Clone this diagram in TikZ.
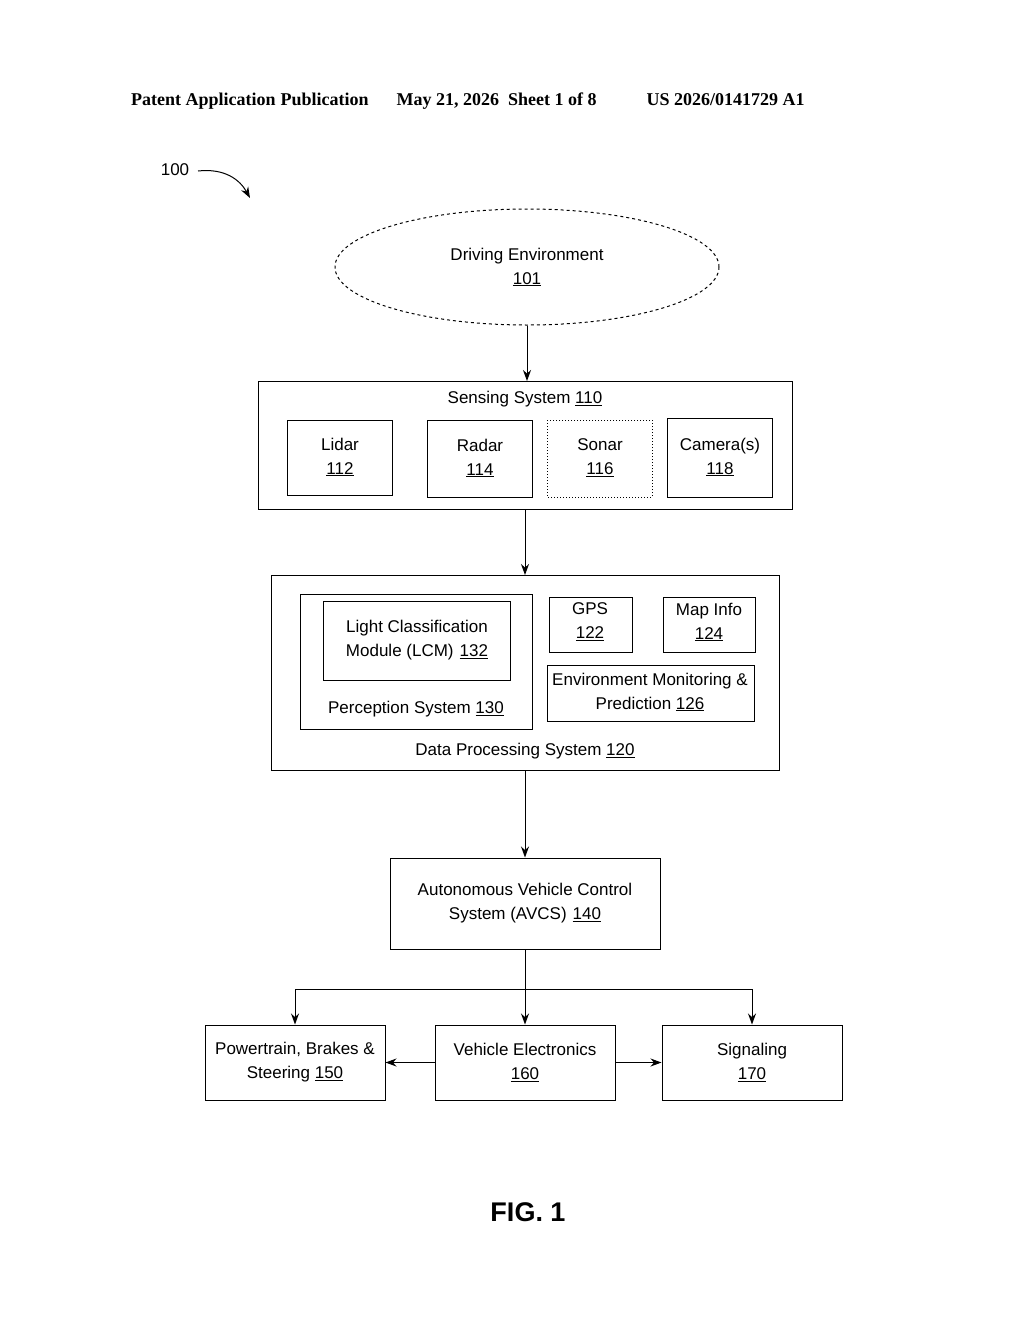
\documentclass[tikz,border=0pt]{standalone}
\usepackage{fontspec}
\setmainfont{Liberation Sans}
\newfontfamily\hdr{Liberation Serif}
\usetikzlibrary{arrows.meta,shapes.geometric}
\begin{document}
\begin{tikzpicture}[x=1pt,y=-1pt,
  bx/.style={draw,line width=1pt},
  lbl/.style={font=\fontsize{17}{24}\selectfont,align=center,inner sep=0},
  ar/.style={-{Stealth[length=11pt,width=8pt]},line width=1pt}]
\useasboundingbox (0,0) rectangle (1024,1320);
\node[font=\hdr\bfseries\fontsize{18}{20}\selectfont,anchor=west,inner sep=0] (hd) at (131,101) {Patent Application\hspace{5pt}Publication\hspace{28pt}May 21, 2026\hspace{9pt}Sheet 1 of 8\hspace{50pt}US 2026/0141729 A1};
\node[lbl] (n100) at (175,170) {100};
\coordinate (a100) at (250,198);
\draw[ar] (198,171) .. controls (225,168) and (240,180) .. (a100);
\node[draw,dashed,ellipse,minimum width=384,minimum height=116,line width=1pt] (env) at (527,267) {};
\node[lbl] (envt) at (527,267) {Driving Environment\\\underline{101}};
\draw[bx] (258,381) rectangle (792,509);
\coordinate (s) at (527,381);
\node[lbl] (st) at (525,399) {Sensing System \underline{110}};
\draw[bx] (287,420) rectangle (392,495); \node[lbl] (l) at (340,457) {Lidar\\\underline{112}};
\draw[bx] (427,420) rectangle (532,497); \node[lbl] (r) at (480,458) {Radar\\\underline{114}};
\draw[dotted,line width=1pt] (547,420) rectangle (652,497); \node[lbl] (so) at (600,458) {Sonar\\\underline{116}};
\draw[bx] (667,418) rectangle (772,497); \node[lbl] (c) at (720,457) {Camera(s)\\\underline{118}};
\draw[ar] (env.south) -- (s);
\coordinate (s2) at (525,509); \coordinate (d1) at (525,575);
\draw[ar] (s2) -- (d1);
\draw[bx] (271,575) rectangle (779,770);
\node[lbl] (dt) at (525,751) {Data Processing System \underline{120}};
\draw[bx] (300,594) rectangle (532,729);
\draw[bx] (323,601) rectangle (510,680);
\node[lbl] (lcm) at (417,640) {Light Classification\\Module (LCM)\hspace{6pt}\underline{132}};
\node[lbl] (pt) at (416,709) {Perception System \underline{130}};
\draw[bx] (549,597) rectangle (632,652); \node[lbl] (g) at (590,622) {GPS\\\underline{122}};
\draw[bx] (663,597) rectangle (755,652); \node[lbl] (m) at (709,622) {Map Info\\\underline{124}};
\draw[bx] (547,665) rectangle (754,721); \node[lbl] (e) at (650,692) {Environment Monitoring \&\\Prediction \underline{126}};
\coordinate (d2) at (525,770);
\node[bx,minimum width=270,minimum height=91] (avcs) at (525,903.5) {};
\node[lbl] at (avcs) {Autonomous Vehicle Control\\System (AVCS)\hspace{6pt}\underline{140}};
\draw[ar] (d2) -- (avcs.north);
\node[bx,minimum width=180,minimum height=75] (p) at (295,1062.5) {};
\node[lbl] at (p) {Powertrain, Brakes \&\\Steering \underline{150}};
\node[bx,minimum width=180,minimum height=75] (v) at (525,1062.5) {};
\node[lbl] at (v) {Vehicle Electronics\\\underline{160}};
\node[bx,minimum width=180,minimum height=75] (sg) at (752,1062.5) {};
\node[lbl] at (sg) {Signaling\\\underline{170}};
\coordinate (j) at (525,989);
\draw[line width=1pt] (avcs.south) -- (j);
\draw[ar] (j) -- (v.north);
\draw[ar] (j) -| (p.north);
\draw[ar] (j) -| (sg.north);
\draw[ar] (v.west) -- (p.east);
\draw[ar] (v.east) -- (sg.west);
\node[font=\bfseries\fontsize{27}{30}\selectfont] (fig) at (528,1212) {FIG. 1};
\end{tikzpicture}
\end{document}
